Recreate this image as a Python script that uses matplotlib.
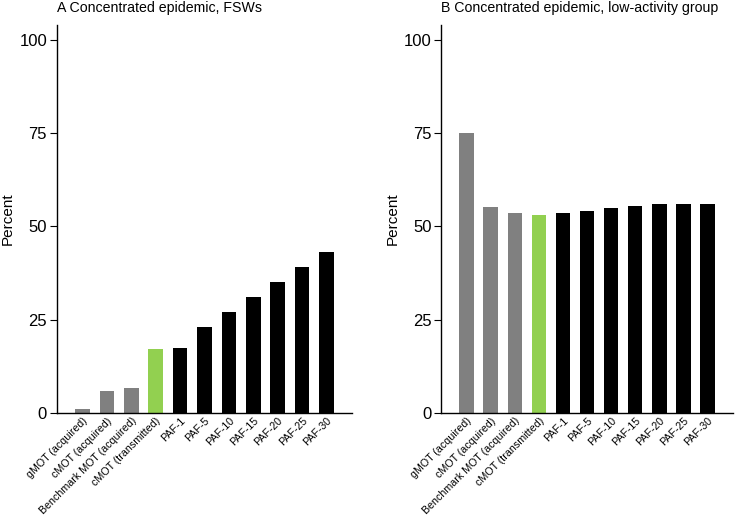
import matplotlib.pyplot as plt

plt.rcParams['font.family'] = ['Liberation Sans', 'DejaVu Sans']

categories = ['gMOT (acquired)', 'cMOT (acquired)', 'Benchmark MOT (acquired)',
              'cMOT (transmitted)', 'PAF-1', 'PAF-5', 'PAF-10', 'PAF-15',
              'PAF-20', 'PAF-25', 'PAF-30']
fsw_values = [1.1, 5.9, 6.7, 17.0, 17.5, 23.0, 27.0, 31.0, 35.0, 39.0, 43.0]
low_values = [75.0, 55.2, 53.6, 53.0, 53.6, 54.1, 55.0, 55.5, 56.0, 56.0, 56.0]
titles = ['A Concentrated epidemic, FSWs',
          'B Concentrated epidemic, low-activity group']
bar_colors = ['#808080'] * 3 + ['#92D050'] + ['black'] * 7
y_ticks = [0, 25, 50, 75, 100]

fig = plt.figure(figsize=(7.38, 5.2), dpi=100)
ax1 = fig.add_axes([0.077, 0.206, 0.400, 0.746])
ax2 = fig.add_axes([0.598, 0.206, 0.395, 0.746])

for ax, vals, title in [(ax1, fsw_values, titles[0]), (ax2, low_values, titles[1])]:
    x = range(len(categories))
    ax.bar(x, vals, width=0.6, color=bar_colors)
    ax.set_xlim(-1.05, 11.05)
    ax.set_ylim(0, 104)
    ax.set_yticks(y_ticks)
    ax.set_xticks(list(x))
    ax.set_xticklabels(categories, rotation=45, ha='right', rotation_mode='anchor',
                       fontsize=7.7)
    ax.tick_params(axis='x', length=0, pad=2)
    ax.tick_params(axis='y', labelsize=12, length=5, width=0.8, pad=2)
    ax.set_ylabel('Percent', fontsize=11, labelpad=3)
    ax.spines['top'].set_visible(False)
    ax.spines['right'].set_visible(False)
    ax.spines['left'].set_linewidth(1.0)
    ax.spines['bottom'].set_linewidth(1.0)
    ax.set_title(title, loc='left', fontsize=10.2, pad=9)

fig.savefig('out.png', dpi=100)
